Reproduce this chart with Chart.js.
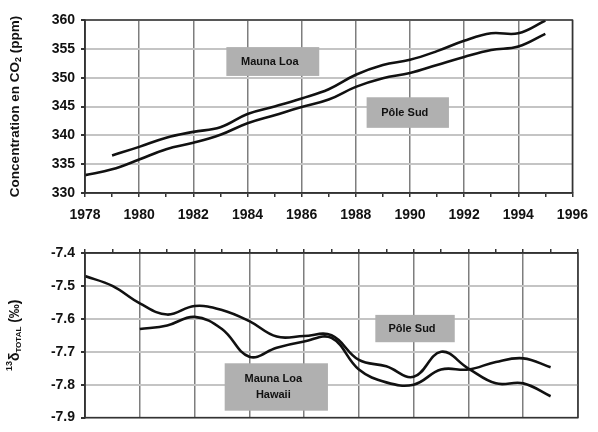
<!DOCTYPE html>
<html>
<head>
<meta charset="utf-8">
<script src="https://cdn.jsdelivr.net/npm/chart.js@4.4.1/dist/chart.umd.min.js"></script>
<style>
  body { margin: 0; background: #fff; }
  #haut, #bas { position: absolute; left: 0; }
  #haut { top: 0; }
  #bas { top: 225px; }
</style>
</head>
<body>
<canvas id="haut" width="598" height="225"></canvas>
<canvas id="bas" width="598" height="207"></canvas>
<script>
// Données
const annees = [1978, 1979, 1980, 1981, 1982, 1983, 1984, 1985, 1986, 1987, 1988, 1989, 1990, 1991, 1992, 1993, 1994, 1995];
const co2MaunaLoa = [null, 336.5, 338.0, 339.6, 340.6, 341.4, 343.7, 345.0, 346.4, 348.0, 350.5, 352.2, 353.1, 354.6, 356.4, 357.7, 357.7, 359.9];
const co2PoleSud = [333.1, 334.1, 335.8, 337.6, 338.7, 340.1, 342.1, 343.5, 344.9, 346.2, 348.4, 349.9, 350.8, 352.2, 353.6, 354.8, 355.4, 357.6];
const d13cPoleSud = [-7.47, -7.50, -7.553, -7.587, -7.561, -7.573, -7.607, -7.654, -7.652, -7.650, -7.725, -7.744, -7.776, -7.700, -7.751, -7.796, -7.796, -7.835];
const d13cMaunaLoa = [null, null, -7.631, -7.620, -7.594, -7.631, -7.715, -7.688, -7.669, -7.658, -7.754, -7.793, -7.800, -7.754, -7.754, -7.731, -7.720, -7.747];

// Graduations
const anneesAxe = [1978, 1979, 1980, 1981, 1982, 1983, 1984, 1985, 1986, 1987, 1988, 1989, 1990, 1991, 1992, 1993, 1994, 1995, 1996];
const etiquettesAnnees = [1978, 1980, 1982, 1984, 1986, 1988, 1990, 1992, 1994, 1996];
const ticksCO2 = [330, 335, 340, 345, 350, 355, 360];
const ticksD13C = [-7.9, -7.8, -7.7, -7.6, -7.5, -7.4];

const POLICE = "'Liberation Sans', Arial, sans-serif";

function points(valeurs) {
  return annees.map((a, i) => ({ x: a, y: valeurs[i] }));
}

function serie(label, valeurs) {
  return {
    label: label,
    data: points(valeurs),
    borderColor: "#111",
    borderWidth: 2.6,
    pointRadius: 0,
    tension: 0.4,
    fill: false,
  };
}

// Cadre, étiquettes grises et titre vertical
const cadre = {
  id: "cadre",
  afterDraw(chart, args, opts) {
    const ctx = chart.ctx;
    const a = chart.chartArea;
    const sx = chart.scales.x;
    const sy = chart.scales.y;
    ctx.save();
    ctx.strokeStyle = "#333";
    ctx.lineWidth = 1.5;
    ctx.strokeRect(a.left, a.top, a.right - a.left, a.bottom - a.top);

    (opts.boites || []).forEach((b) => {
      const x1 = sx.getPixelForValue(b.x[0]);
      const x2 = sx.getPixelForValue(b.x[1]);
      const y1 = sy.getPixelForValue(b.y[1]);
      const y2 = sy.getPixelForValue(b.y[0]);
      ctx.fillStyle = "#b0b0b0";
      ctx.fillRect(x1, y1, x2 - x1, y2 - y1);
      ctx.fillStyle = "#111";
      ctx.font = "bold 11px " + POLICE;
      ctx.textAlign = "center";
      ctx.textBaseline = "middle";
      const h = 16;
      const cy = (y1 + y2) / 2 - ((b.texte.length - 1) * h) / 2;
      b.texte.forEach((t, i) => ctx.fillText(t, (x1 + x2) / 2 - 3, cy + i * h));
    });

    // titre de l'axe vertical, en morceaux (indices)
    if (opts.titre) {
      const cy = (a.top + a.bottom) / 2;
      ctx.translate(15, cy);
      ctx.rotate(-Math.PI / 2);
      ctx.textBaseline = "middle";
      ctx.textAlign = "left";
      let largeur = 0;
      opts.titre.forEach((m) => {
        ctx.font = "bold " + m.taille + "px " + POLICE;
        largeur += ctx.measureText(m.t).width;
      });
      let x = -largeur / 2;
      opts.titre.forEach((m) => {
        ctx.font = "bold " + m.taille + "px " + POLICE;
        ctx.fillStyle = "#111";
        ctx.fillText(m.t, x, m.dy || 0);
        x += ctx.measureText(m.t).width;
      });
    }
    ctx.restore();
  },
};

function axeX(position, labels, hauteur) {
  return {
    type: "linear",
    position: position,
    min: 1978,
    max: 1996,
    afterBuildTicks: (s) => { s.ticks = anneesAxe.map((v) => ({ value: v })); },
    afterFit: (s) => { s.height = hauteur; },
    ticks: {
      display: labels,
      autoSkip: false,
      maxRotation: 0,
      padding: 10,
      color: "#111",
      font: { family: POLICE, size: 14, weight: "bold" },
      callback: (v) => (etiquettesAnnees.includes(v) ? String(v) : ""),
    },
    grid: {
      color: (c) => (c.tick && etiquettesAnnees.includes(c.tick.value) ? "#7e7e7e" : "rgba(0,0,0,0)"),
      lineWidth: 1.5,
      tickColor: "#333",
      tickLength: 4,
    },
    border: { color: "#333", width: 1.5 },
  };
}

function axeY(min, max, graduations, decimales) {
  return {
    min: min,
    max: max,
    afterBuildTicks: (s) => { s.ticks = graduations.map((v) => ({ value: v })); },
    afterFit: (s) => { s.width = 85; },
    ticks: {
      padding: 6,
      color: "#111",
      font: { family: POLICE, size: 14, weight: "bold" },
      callback: (v) => v.toFixed(decimales),
    },
    grid: { color: "#c4c4c4", lineWidth: 2, tickColor: "#333", tickLength: 4 },
    border: { color: "#333", width: 1.5 },
  };
}

new Chart(document.getElementById("haut").getContext("2d"), {
  type: "line",
  data: { datasets: [serie("Mauna Loa", co2MaunaLoa), serie("Pôle Sud", co2PoleSud)] },
  options: {
    responsive: false,
    animation: false,
    layout: { padding: { left: 0, right: 20, top: 20, bottom: 0 } },
    scales: { x: axeX("bottom", true, 32), y: axeY(330, 360, ticksCO2, 0) },
    plugins: {
      legend: { display: false },
      tooltip: { enabled: false },
      cadre: {
        boites: [
          { texte: ["Mauna Loa"], x: [1983.22, 1986.65], y: [350.3, 355.3] },
          { texte: ["Pôle Sud"], x: [1988.4, 1991.44], y: [341.3, 346.6] },
        ],
        titre: [
          { t: "Concentration en CO", taille: 13.5 },
          { t: "2", taille: 9, dy: 4 },
          { t: " (ppm)", taille: 13.5 },
        ],
      },
    },
  },
  plugins: [cadre],
});

new Chart(document.getElementById("bas").getContext("2d"), {
  type: "line",
  data: { datasets: [serie("Pôle Sud", d13cPoleSud), serie("Mauna Loa Hawaii", d13cMaunaLoa)] },
  options: {
    responsive: false,
    animation: false,
    layout: { padding: { left: 0, right: 20, top: 0, bottom: 9 } },
    scales: { x: axeX("top", false, 28), y: axeY(-7.9, -7.4, ticksD13C, 1) },
    plugins: {
      legend: { display: false },
      tooltip: { enabled: false },
      cadre: {
        boites: [
          { texte: ["Mauna Loa", "Hawaii"], x: [1983.1, 1986.87], y: [-7.879, -7.735] },
          { texte: ["Pôle Sud"], x: [1988.6, 1991.5], y: [-7.671, -7.588] },
        ],
        titre: [
          { t: "13", taille: 9, dy: -5 },
          { t: "δ", taille: 14 },
          { t: "TOTAL", taille: 8, dy: 4 },
          { t: " (‰)", taille: 14 },
        ],
      },
    },
  },
  plugins: [cadre],
});
</script>
</body>
</html>
